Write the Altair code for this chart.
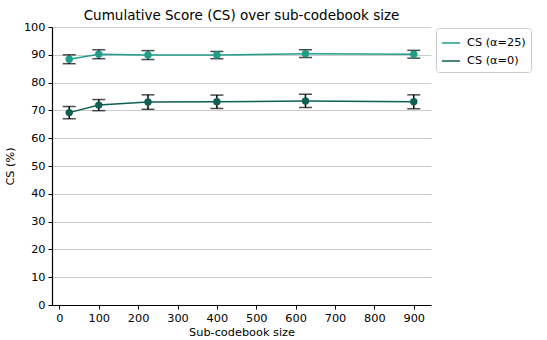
import altair as alt
import pandas as pd

sizes = [25, 100, 225, 400, 625, 900]
series_names = ["CS (α=25)", "CS (α=0)"]
cs_a25 = [88.4, 90.2, 89.9, 89.9, 90.4, 90.2]
err_a25 = [1.6, 1.6, 1.6, 1.3, 1.4, 1.4]
cs_a0 = [69.2, 71.9, 73.0, 73.1, 73.4, 73.1]
err_a0 = [2.2, 2.0, 2.6, 2.4, 2.4, 2.5]
colors = ["#1f9e89", "#0f5f54"]

rows = []
for name, vals, errs in [(series_names[0], cs_a25, err_a25), (series_names[1], cs_a0, err_a0)]:
    for s, v, e in zip(sizes, vals, errs):
        rows.append({"size": s, "cs": v, "lo": v - e, "hi": v + e, "series": name})
df = pd.DataFrame(rows)

FONT = "DejaVu Sans"

x_scale = alt.Scale(domain=[-18.75, 943.75], nice=False, zero=False)
y_scale = alt.Scale(domain=[0, 100], nice=False)
x_axis = alt.Axis(title="Sub-codebook size", values=list(range(0, 1000, 100)),
                  grid=False, tickSize=4, labelPadding=3, titlePadding=3, labelOverlap=False)
y_axis = alt.Axis(title="CS (%)", values=list(range(0, 110, 10)), grid=True,
                  tickSize=4, labelPadding=3, titlePadding=8, labelOverlap=False)


def X(field):
    return alt.X(field, type="quantitative", scale=x_scale, axis=x_axis)


def Y(field):
    return alt.Y(field, type="quantitative", scale=y_scale, axis=y_axis)


color_scale = alt.Scale(domain=series_names, range=colors)
color_enc = alt.Color("series:N", scale=color_scale,
                      legend=alt.Legend(title=None, orient="none", legendX=384, legendY=1,
                                        symbolType="stroke", symbolSize=330, symbolStrokeWidth=1.5,
                                        labelFontSize=11.3, labelFont=FONT, padding=5,
                                        strokeColor="#cccccc", cornerRadius=3, fillColor="white",
                                        rowPadding=2, labelLimit=200, labelOffset=6))

base = alt.Chart(df)
line = base.mark_line(strokeWidth=1.5).encode(x=X("size"), y=Y("cs"), color=color_enc)
bars = base.mark_rule(color="black", strokeWidth=1.5).encode(
    x=X("size"), y=Y("lo"), y2="hi:Q")
cap_lo = base.mark_tick(color="black", orient="horizontal", size=13, thickness=1.5).encode(
    x=X("size"), y=Y("lo"))
cap_hi = base.mark_tick(color="black", orient="horizontal", size=13, thickness=1.5).encode(
    x=X("size"), y=Y("hi"))
pts = base.mark_circle(size=55, opacity=1).encode(
    x=X("size"), y=Y("cs"),
    color=alt.Color("series:N", scale=color_scale, legend=None))

chart = alt.layer(line, bars, cap_lo, cap_hi, pts).properties(
    width=379, height=278,
    title=alt.TitleParams("Cumulative Score (CS) over sub-codebook size", fontSize=13.5,
                          font=FONT, fontWeight="normal", offset=-1, anchor="middle"),
    padding={"left": 52, "top": 27, "right": 116, "bottom": 35},
    autosize=alt.AutoSizeParams(type="none"),
).configure_view(stroke=None).configure_axis(
    labelFont=FONT, titleFont=FONT, labelFontSize=11.3, titleFontSize=11.3,
    titleFontWeight="normal", labelColor="black", titleColor="black",
    domainColor="black", tickColor="black", gridColor="#cccccc", domainWidth=1.2,
)

chart.save("out.html", embed_options={"renderer": "svg", "actions": False})
